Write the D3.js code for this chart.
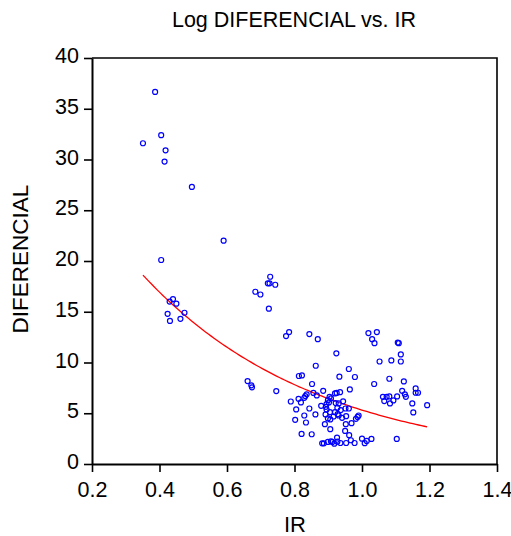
<!DOCTYPE html>
<html>
<head>
<meta charset="utf-8">
<script src="https://cdn.jsdelivr.net/npm/d3@7"></script>
<style>
  body { margin: 0; background: #fff; }
  svg { display: block; font-family: "Liberation Sans", Arial, sans-serif; }
</style>
</head>
<body>
<div id="chart"></div>
<script>
// IR values (x) and DIFERENCIAL values (y)
const irValues = [
  0.351, 0.387, 0.405, 0.418, 0.415, 0.496, 0.590, 0.405, 0.440, 0.430,
  0.450, 0.424, 0.431, 0.462, 0.474, 0.661, 0.672, 0.674, 0.684, 0.699,
  0.728, 0.721, 0.726, 0.743, 0.724, 0.775, 0.784, 0.844, 0.869, 0.924,
  1.019, 1.044, 1.030, 1.037, 1.106, 1.109, 1.115, 1.115, 1.087, 1.052,
  0.863, 0.961, 0.933, 0.979, 0.813, 0.822, 1.081, 1.124, 1.036, 0.852,
  0.746, 0.885, 0.856, 0.964, 0.920, 0.925, 0.935, 0.836, 0.832, 0.829,
  0.812, 0.789, 0.819, 0.866, 0.904, 0.899, 0.908, 0.895, 0.902, 0.893,
  0.895, 0.892, 0.905, 0.879, 0.844, 0.805, 0.829, 0.802, 0.834, 0.862,
  0.922, 0.931, 0.944, 0.927, 0.937, 0.920, 0.928, 0.916, 0.931, 0.941,
  0.953, 0.951, 0.961, 0.982, 0.987, 0.990, 0.969, 0.952, 0.906, 0.899,
  0.890, 0.906, 0.950, 0.962, 0.821, 0.851,
  0.882, 0.887, 0.899, 0.908, 0.912, 0.918, 0.926, 0.927, 0.936, 0.953,
  0.967, 0.978, 1.000, 1.008, 1.014, 1.028, 1.103,
  1.062, 1.066, 1.073, 1.081, 1.083, 1.093, 1.104, 1.119, 1.127, 1.130,
  1.159, 1.159, 1.166, 1.149, 1.152, 1.193
];
const difValues = [
  31.6, 36.66, 32.4, 30.9, 29.8, 27.3, 22.0, 20.1, 16.25, 16.0,
  15.8, 14.8, 14.1, 14.3, 14.9, 8.17, 7.75, 7.55, 16.97, 16.7,
  18.45, 17.8, 17.8, 17.66, 15.3, 12.6, 13.0, 12.8, 12.3, 10.9,
  12.9, 13.0, 12.3, 11.9, 11.96, 11.9, 10.8, 10.1, 10.2, 10.1,
  9.68, 9.36, 8.6, 8.57, 8.67, 8.73, 8.4, 8.14, 7.88, 7.88,
  7.18, 7.21, 7.0, 7.35, 6.95, 7.0, 7.08, 6.86, 6.69, 6.52,
  6.42, 6.16, 6.07, 6.76, 6.62, 6.29, 6.46, 5.9, 6.07, 5.63,
  5.38, 4.88, 5.11, 5.73, 5.47, 5.38, 4.78, 4.35, 4.09, 4.88,
  6.0, 5.97, 6.17, 5.53, 5.31, 5.11, 4.91, 4.68, 4.78, 4.55,
  4.71, 5.47, 5.47, 4.45, 4.64, 4.78, 4.02, 3.92, 4.39, 4.49,
  3.92, 3.43, 3.26, 2.84, 2.96, 2.93,
  2.04, 2.04, 2.17, 2.24, 2.17, 2.0, 2.6, 2.2, 2.07, 2.07,
  2.34, 2.07, 2.5, 2.05, 2.27, 2.47, 2.47,
  6.62, 6.2, 6.62, 6.66, 5.97, 6.26, 6.66, 7.21, 6.86, 6.62,
  7.45, 7.02, 7.02, 5.97, 5.08, 5.8
];

// fitted curve: log(DIFERENCIAL) = fitA + fitB * IR, drawn over the IR range of the data
const fitA = 3.602;
const fitB = -1.932;

const xTicks = [0.2, 0.4, 0.6, 0.8, 1.0, 1.2, 1.4];
const yTicks = [0, 5, 10, 15, 20, 25, 30, 35, 40];

const width = 511, height = 536;
const margin = {top: 58, right: 14, bottom: 72, left: 92};

const svg = d3.select("#chart").append("svg")
  .attr("width", width)
  .attr("height", height);

const x = d3.scaleLinear().domain([0.2, 1.4]).range([margin.left, width - margin.right]);
const y = d3.scaleLinear().domain([0, 40]).range([height - margin.bottom, margin.top]);

// frame (top + right)
svg.append("path")
  .attr("d", `M${x(0.2)},${y(40)}H${x(1.4)}V${y(0)}`)
  .attr("fill", "none")
  .attr("stroke", "#000")
  .attr("stroke-width", 1.6);

const xAxis = svg.append("g")
  .attr("transform", `translate(0,${y(0)})`)
  .call(d3.axisBottom(x).tickValues(xTicks).tickFormat(d3.format(".1f")).tickSize(8).tickSizeOuter(0));

const yAxis = svg.append("g")
  .attr("transform", `translate(${x(0.2)},0)`)
  .call(d3.axisLeft(y).tickValues(yTicks).tickSize(8).tickSizeOuter(0));

[xAxis, yAxis].forEach(g => {
  g.select(".domain").attr("stroke", "#000").attr("stroke-width", 2);
  g.selectAll(".tick line").attr("stroke", "#000").attr("stroke-width", 1.6);
  g.selectAll("text")
    .attr("fill", "#000")
    .attr("font-size", 21.5)
    .attr("font-family", "Liberation Sans, Arial, sans-serif");
});
xAxis.selectAll("text").attr("dy", 0).attr("y", 33);
yAxis.selectAll("text").attr("x", -13).attr("y", -3).attr("dy", "0.35em");

// fitted line
const minIR = d3.min(irValues), maxIR = d3.max(irValues);
const curve = d3.range(0, 101).map(i => minIR + (maxIR - minIR) * i / 100);
svg.append("path")
  .datum(curve)
  .attr("fill", "none")
  .attr("stroke", "#ff0000")
  .attr("stroke-width", 1.3)
  .attr("d", d3.line().x(d => x(d)).y(d => y(Math.exp(fitA + fitB * d))));

// scatter points
svg.append("g")
  .selectAll("circle")
  .data(irValues.map((v, i) => [v, difValues[i]]))
  .join("circle")
  .attr("cx", d => x(d[0]))
  .attr("cy", d => y(d[1]))
  .attr("r", 2.5)
  .attr("fill", "none")
  .attr("stroke", "#0000ff")
  .attr("stroke-width", 1.2);

// titles
svg.append("text")
  .attr("x", 294)
  .attr("y", 27)
  .attr("text-anchor", "middle")
  .attr("font-size", 21.5)
  .text("Log DIFERENCIAL vs. IR");

svg.append("text")
  .attr("x", 295)
  .attr("y", 532)
  .attr("text-anchor", "middle")
  .attr("font-size", 22)
  .text("IR");

svg.append("text")
  .attr("transform", `translate(28,259) rotate(-90)`)
  .attr("text-anchor", "middle")
  .attr("font-size", 22.5)
  .text("DIFERENCIAL");
</script>
</body>
</html>
